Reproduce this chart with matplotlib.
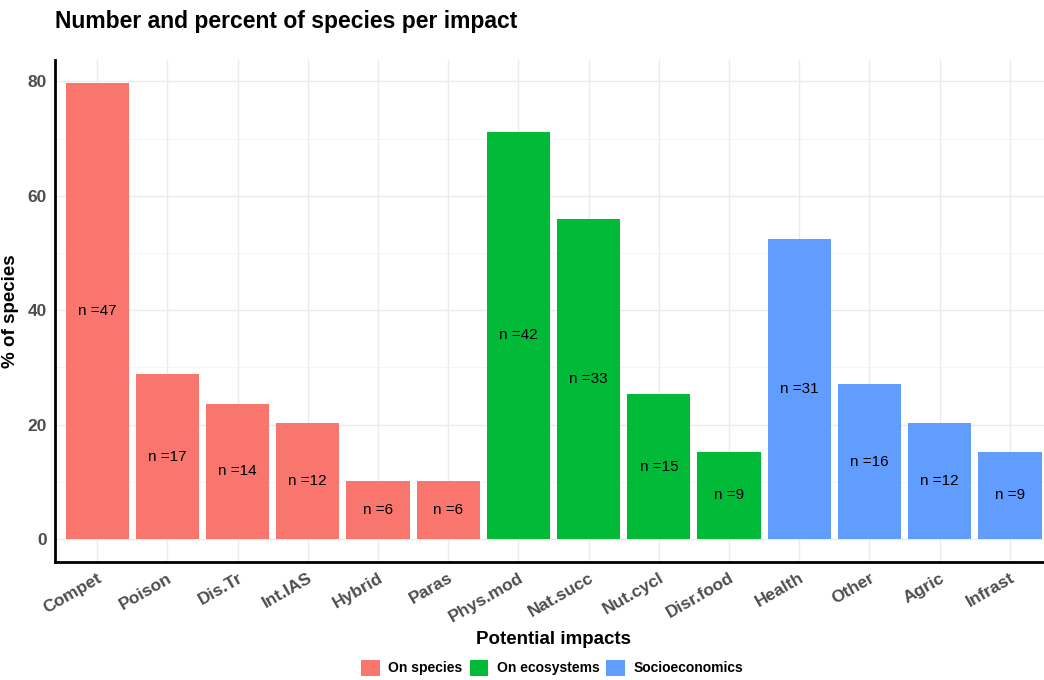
import matplotlib

matplotlib.use("Agg")
import matplotlib.pyplot as plt
from matplotlib.patches import Patch

plt.rcParams["font.family"] = ["Liberation Sans", "DejaVu Sans"]

impacts = ["Compet", "Poison", "Dis.Tr", "Int.IAS", "Hybrid", "Paras",
           "Phys.mod", "Nat.succ", "Nut.cycl", "Disr.food",
           "Health", "Other", "Agric", "Infrast"]
n_species = [47, 17, 14, 12, 6, 6, 42, 33, 15, 9, 31, 16, 12, 9]
pct_species = [79.7, 28.8, 23.7, 20.3, 10.2, 10.2, 71.2, 55.9, 25.4, 15.3,
               52.5, 27.1, 20.3, 15.3]
groups = ["On species"] * 6 + ["On ecosystems"] * 4 + ["Socioeconomics"] * 4
group_names = ["On species", "On ecosystems", "Socioeconomics"]
group_colors = {"On species": "#F8766D", "On ecosystems": "#00BA38",
                "Socioeconomics": "#619CFF"}

fig = plt.figure(figsize=(10.44, 6.8), dpi=100)
ax = fig.add_axes([0.0527, 0.1735, 0.955, 0.738])

xs = list(range(1, len(impacts) + 1))
ax.bar(xs, pct_species, width=0.9, color=[group_colors[g] for g in groups],
       zorder=2)
for x, p, n in zip(xs, pct_species, n_species):
    ax.text(x, p / 2, f"n ={n}", ha="center", va="center", fontsize=11,
            color="black", zorder=3)

ax.set_xlim(0.4, len(impacts) + 0.6)
ax.set_ylim(-0.05 * max(pct_species), 1.05 * max(pct_species))
ax.set_xticks(xs)
ax.set_xticklabels(impacts, rotation=30, ha="right", rotation_mode="anchor",
                   fontsize=12.5, fontweight="bold", color="#4D4D4D")
ax.set_yticks([0, 20, 40, 60, 80])
ax.set_yticks([10, 30, 50, 70], minor=True)
for lab in ax.get_yticklabels():
    lab.set_fontsize(12.5)
    lab.set_fontweight("bold")
    lab.set_color("#4D4D4D")
ax.tick_params(axis="both", which="both", length=0, pad=6)

ax.grid(which="major", color="#EBEBEB", linewidth=1.0, zorder=0)
ax.grid(which="minor", axis="y", color="#F2F2F2", linewidth=0.6, zorder=0)
ax.set_axisbelow(True)
for side in ("top", "right"):
    ax.spines[side].set_visible(False)
for side in ("left", "bottom"):
    ax.spines[side].set_linewidth(2)
    ax.spines[side].set_color("black")

ax.set_xlabel("Potential impacts", fontsize=13.5, fontweight="bold",
              labelpad=4)
ax.set_ylabel("% of species", fontsize=13.5, fontweight="bold", labelpad=6)
fig.text(0.0527, 0.968, "Number and percent of species per impact",
         fontsize=16.5, fontweight="bold", va="center", ha="left")

handles = [Patch(facecolor=group_colors[g], edgecolor="none", label=g)
           for g in group_names]
fig.legend(handles=handles, loc="center", bbox_to_anchor=(0.529, 0.018),
           ncol=3, frameon=False, prop={"weight": "bold", "size": 10},
           handlelength=1.35, handleheight=1.35, columnspacing=0.5,
           handletextpad=0.6)

fig.savefig("out.png", dpi=100)
